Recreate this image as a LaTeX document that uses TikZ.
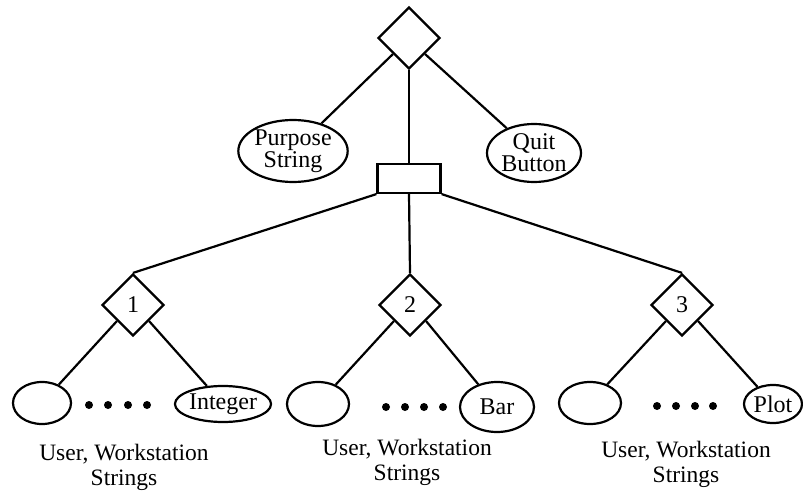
\documentclass[tikz,border=0pt]{standalone}
\usepackage{fontspec}
\setmainfont{Liberation Serif}
\usetikzlibrary{shapes.geometric}
\begin{document}
\begin{tikzpicture}[x=1pt,y=-1pt,line width=2.2pt,
  dia/.style={draw,diamond,inner sep=0pt,minimum width=62pt,minimum height=62pt,font=\fontsize{24}{24}\selectfont},
  ell/.style={draw,ellipse,inner sep=0pt,align=center,font=\fontsize{24}{22}\selectfont},
  lbl/.style={align=center,font=\fontsize{23.5}{25}\selectfont},
  dot/.style={fill=black}]
\useasboundingbox (0,0) rectangle (803,492);
% top level
\node[dia] (top) at (409,38) {};
\node[ell,minimum width=100pt,minimum height=62pt] (purpose) at (293,151) {Purpose\\String};
\node[ell,minimum width=94pt,minimum height=58pt] (quit) at (534,153) {Quit\\Button};
\node[draw,inner sep=0pt,minimum width=63pt,minimum height=29pt] (box) at (409,178.5) {};
\draw (top.south west) -- (purpose);
\draw (top.south east) -- (quit);
\draw (top.south) -- (box.north);
% second level diamonds
\node[dia] (d1) at (133,305) {1};
\node[dia] (d2) at (410,305) {2};
\node[dia] (d3) at (682,305) {3};
\draw (box.south west) -- (d1.north);
\draw (box.south) -- (d2.north);
\draw (box.south east) -- (d3.north);
% leaves group 1
\node[ell,minimum width=58pt,minimum height=42pt] (u1) at (42,403) {};
\node[ell,minimum width=92pt,minimum height=36pt] (i1) at (223,404) {Integer};
\draw (d1.south west) -- (u1);
\draw (d1.south east) -- (i1);
\foreach \x in {89,108,128,147} \fill[dot] (\x,405) circle (4);
\node[lbl] (l1) at (124,467) {User, Workstation\\Strings};
% leaves group 2
\node[ell,minimum width=62pt,minimum height=44pt] (u2) at (318,404) {};
\node[ell,minimum width=74pt,minimum height=50pt] (b2) at (497,407) {Bar};
\draw (d2.south west) -- (u2);
\draw (d2.south east) -- (b2);
\foreach \x in {386,405,424,443} \fill[dot] (\x,407) circle (4);
\node[lbl] (l2) at (407,462) {User, Workstation\\Strings};
% leaves group 3
\node[ell,minimum width=62pt,minimum height=42pt] (u3) at (590,403) {};
\node[ell,minimum width=58pt,minimum height=38pt] (p3) at (773,404) {Plot};
\draw (d3.south west) -- (u3);
\draw (d3.south east) -- (p3);
\foreach \x in {657,676,695,713} \fill[dot] (\x,406) circle (4);
\node[lbl] (l3) at (686,464) {User, Workstation\\Strings};
\end{tikzpicture}
\end{document}
